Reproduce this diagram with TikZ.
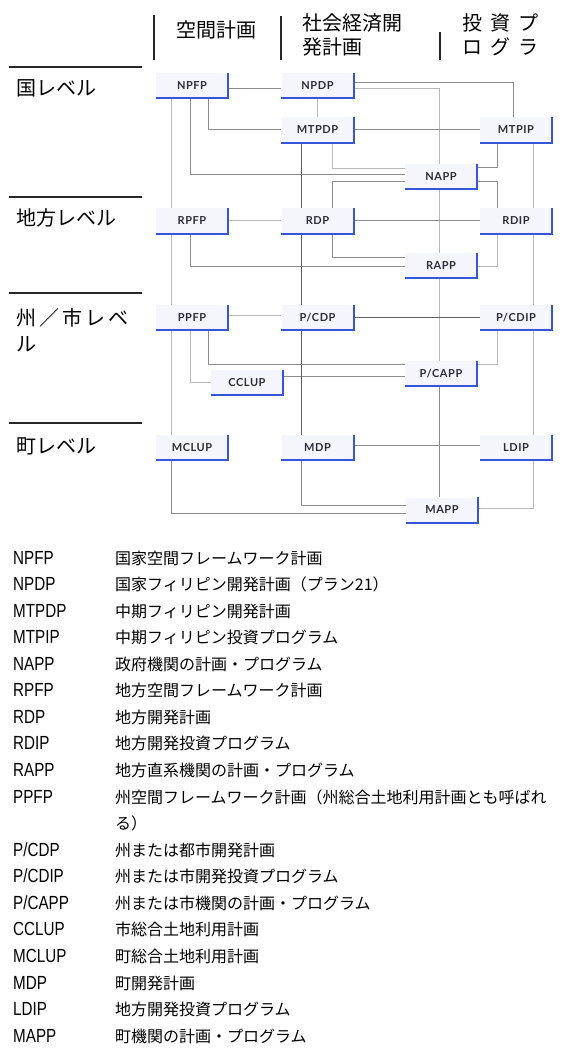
\documentclass[tikz,border=0pt]{standalone}
\usepackage{fontspec}
\usetikzlibrary{calc}
\newfontfamily\jpfont{Noto Sans CJK JP}
\newfontfamily\boxfont[LetterSpace=5]{Lato}
\newfontfamily\abbrfont[FakeStretch=0.8]{Liberation Sans}
\definecolor{boxfill}{RGB}{244,246,251}
\definecolor{boxtext}{RGB}{45,45,55}
\definecolor{planblue}{RGB}{55,85,215}
\pgfdeclarelayer{background}
\pgfsetlayers{background,main}
\newcommand\legrow[3]{%
  \node[abbrst] (a#1) at (13,{564+26.57*#1}) {#2};
  \node[legst] (t#1) at (115,{564+26.57*#1}) {#3};}
\tikzset{
  plan/.style={minimum width=72pt, minimum height=25pt, inner sep=0pt,
    fill=boxfill, text=boxtext, font=\boxfont\bfseries\fontsize{11}{12}\selectfont},
  cdk/.style={draw=black!62, line width=1pt},
  cmd/.style={draw=black!45, line width=1pt},
  clt/.style={draw=black!28, line width=1pt},
  blueL/.style={draw=planblue, line width=2pt},
  hdr/.style={anchor=base west, inner sep=0pt, font=\jpfont\fontsize{20}{22}\selectfont},
  lvl/.style={draw=black!85, line width=1.8pt},
  abbrst/.style={anchor=base west, inner sep=0pt, font=\abbrfont\fontsize{19}{20}\selectfont},
  legst/.style={anchor=base west, inner sep=0pt, font=\jpfont\fontsize{16}{18}\selectfont},
}
\begin{document}
\begin{tikzpicture}[x=1pt,y=-1pt]
\useasboundingbox (0,0) rectangle (562,1048);

% header bars and headers
\draw[lvl] (154,15) -- (154,60);
\draw[lvl] (281,16) -- (281,60);
\draw[lvl] (440,32) -- (440,60);
\node[hdr] (h1) at (176,38) {空間計画};
\node[hdr] (h2a) at (302,31) {社会経済開};
\node[hdr] (h2b) at (302,55) {発計画};
\node[hdr] (h3a) at (462,31) {投\hspace{8pt}資\hspace{8pt}プ};
\node[hdr] (h3b) at (462,55) {ロ\hspace{8pt}グ\hspace{8pt}ラ};

% level lines and labels
\draw[lvl] (9,67) -- (142,67);
\draw[lvl] (9,197) -- (142,197);
\draw[lvl] (9,293) -- (142,293);
\draw[lvl] (9,423) -- (142,423);
\node[hdr] (l1) at (16,96) {国レベル};
\node[hdr] (l2) at (16,226) {地方レベル};
\node[hdr] (l3a) at (16,325) {州\hspace{3pt}／\hspace{3pt}市\hspace{3pt}レ\hspace{3pt}ベ};
\node[hdr] (l3b) at (16,351) {ル};
\node[hdr] (l4) at (16,453) {町レベル};

% plan nodes
\node[plan] (NPFP) at (192,85.5) {NPFP};
\node[plan] (NPDP) at (317.5,85.5) {NPDP};
\node[plan] (MTPDP) at (317.5,130) {MTPDP};
\node[plan] (MTPIP) at (516,130) {MTPIP};
\node[plan] (NAPP) at (441,176.5) {NAPP};
\node[plan] (RPFP) at (192,221) {RPFP};
\node[plan] (RDP) at (317.5,221) {RDP};
\node[plan] (RDIP) at (516,221) {RDIP};
\node[plan] (RAPP) at (441,265.5) {RAPP};
\node[plan] (PPFP) at (192,317.5) {PPFP};
\node[plan] (PCDP) at (317.5,317.5) {P/CDP};
\node[plan] (PCDIP) at (516,317.5) {P/CDIP};
\node[plan] (PCAPP) at (441,373.5) {P/CAPP};
\node[plan] (CCLUP) at (247,382.5) {CCLUP};
\node[plan] (MCLUP) at (192,447.5) {MCLUP};
\node[plan] (MDP) at (317.5,447.5) {MDP};
\node[plan] (LDIP) at (516,447.5) {LDIP};
\node[plan] (MAPP) at (442,510) {MAPP};

\foreach \n in {NPFP,NPDP,MTPDP,MTPIP,NAPP,RPFP,RDP,RDIP,RAPP,PPFP,PCDP,PCDIP,PCAPP,CCLUP,MCLUP,MDP,LDIP,MAPP}
  \draw[blueL] (\n.south west) -| (\n.north east);

\begin{pgfonlayer}{background}
% national
\draw[cmd] ([yshift=-3.5pt]NPFP.east) -- ([yshift=-3.5pt]NPDP.west);
\draw[cmd] ([xshift=53pt]NPFP.south west) |- (MTPDP.west);
\draw[cmd] ([xshift=35pt]NPFP.south west) |- ([yshift=1.5pt]NAPP.west);
\draw[clt] ([xshift=16pt]NPFP.south west) -- ([xshift=16pt]RPFP.north west);
\draw[clt] (NPDP.south) -- (MTPDP.north);
\draw[cmd] ([yshift=2.5pt]NPDP.east) -| ([xshift=-3pt]MTPIP.north);
\draw[clt] ([yshift=-3.5pt]NPDP.east) -| ([xshift=-2pt]NAPP.north);
\draw[cmd] (MTPDP.east) -- (MTPIP.west);
\draw[clt] ([xshift=51pt]MTPDP.south west) |- ([yshift=7.5pt]NAPP.west);
\draw[cdk] ([xshift=20pt]MTPDP.south west) -- ([xshift=20pt]RDP.north west);
\draw[cmd] ([xshift=18pt]MTPIP.south west) |- ([yshift=8.5pt]NAPP.east);
\draw[clt] ([xshift=54pt]MTPIP.south west) -- ([xshift=54pt]RDIP.north west);
\draw[cmd] ([yshift=-5.5pt]NAPP.west) -| ([xshift=51pt]RDP.north west);
\draw[cmd] ([yshift=-5.5pt]NAPP.east) -| ([xshift=18pt]RDIP.north west);
\draw[clt] ([xshift=-2pt]NAPP.south) -- ([xshift=-2pt]RAPP.north);
% regional
\draw[clt] (RPFP.east) -- (RDP.west);
\draw[cmd] ([xshift=35pt]RPFP.south west) |- ([yshift=-1.5pt]RAPP.west);
\draw[clt] ([xshift=16pt]RPFP.south west) -- ([xshift=16pt]PPFP.north west);
\draw[cmd] (RDP.east) -- (RDIP.west);
\draw[cmd] ([xshift=51pt]RDP.south west) |- ([yshift=7.5pt]RAPP.west);
\draw[cdk] ([xshift=20pt]RDP.south west) -- ([xshift=20pt]PCDP.north west);
\draw[clt] ([xshift=18pt]RDIP.south west) |- ([yshift=-1.5pt]RAPP.east);
\draw[clt] ([xshift=54pt]RDIP.south west) -- ([xshift=54pt]PCDIP.north west);
\draw[clt] ([xshift=-2pt]RAPP.south) -- ([xshift=-2pt]PCAPP.north);
% province / city
\draw[clt] ([yshift=2.5pt]PPFP.east) -- ([yshift=2.5pt]PCDP.west);
\draw[cmd] ([xshift=53pt]PPFP.south west) |- ([yshift=9.5pt]PCAPP.west);
\draw[clt] ([xshift=35pt]PPFP.south west) |- (CCLUP.west);
\draw[clt] ([xshift=16pt]PPFP.south west) -- ([xshift=16pt]MCLUP.north west);
\draw[cmd] ([yshift=6.5pt]CCLUP.east) -- ([yshift=-2.5pt]PCAPP.west);
\draw[cdk] (PCDP.east) -- (PCDIP.west);
\draw[cdk] ([xshift=20pt]PCDP.south west) -- ([xshift=20pt]MDP.north west);
\draw[clt] ([xshift=18pt]PCDIP.south west) |- ([yshift=9.5pt]PCAPP.east);
\draw[clt] ([xshift=54pt]PCDIP.south west) -- ([xshift=54pt]LDIP.north west);
\draw[cmd] ([xshift=-2pt]PCAPP.south) -- ([xshift=-3pt]MAPP.north);
% municipal
\draw[cmd] ([yshift=2.5pt]MDP.east) -- ([yshift=2.5pt]LDIP.west);
\draw[cmd] ([xshift=16pt]MCLUP.south west) |- ([yshift=-3pt]MAPP.west);
\draw[cmd] ([xshift=20pt]MDP.south west) |- ([yshift=5pt]MAPP.west);
\draw[clt] ([xshift=54pt]LDIP.south west) |- ([yshift=2pt]MAPP.east);
\end{pgfonlayer}

% legend
\legrow{0}{NPFP}{国家空間フレームワーク計画}
\legrow{1}{NPDP}{国家フィリピン開発計画（プラン21）}
\legrow{2}{MTPDP}{中期フィリピン開発計画}
\legrow{3}{MTPIP}{中期フィリピン投資プログラム}
\legrow{4}{NAPP}{政府機関の計画・プログラム}
\legrow{5}{RPFP}{地方空間フレームワーク計画}
\legrow{6}{RDP}{地方開発計画}
\legrow{7}{RDIP}{地方開発投資プログラム}
\legrow{8}{RAPP}{地方直系機関の計画・プログラム}
\legrow{9}{PPFP}{州空間フレームワーク計画（州総合土地利用計画とも呼ばれ}
\node[legst] (t10) at (115,{564+26.57*10}) {る）};
\legrow{11}{P/CDP}{州または都市開発計画}
\legrow{12}{P/CDIP}{州または市開発投資プログラム}
\legrow{13}{P/CAPP}{州または市機関の計画・プログラム}
\legrow{14}{CCLUP}{市総合土地利用計画}
\legrow{15}{MCLUP}{町総合土地利用計画}
\legrow{16}{MDP}{町開発計画}
\legrow{17}{LDIP}{地方開発投資プログラム}
\legrow{18}{MAPP}{町機関の計画・プログラム}
\end{tikzpicture}
\end{document}
